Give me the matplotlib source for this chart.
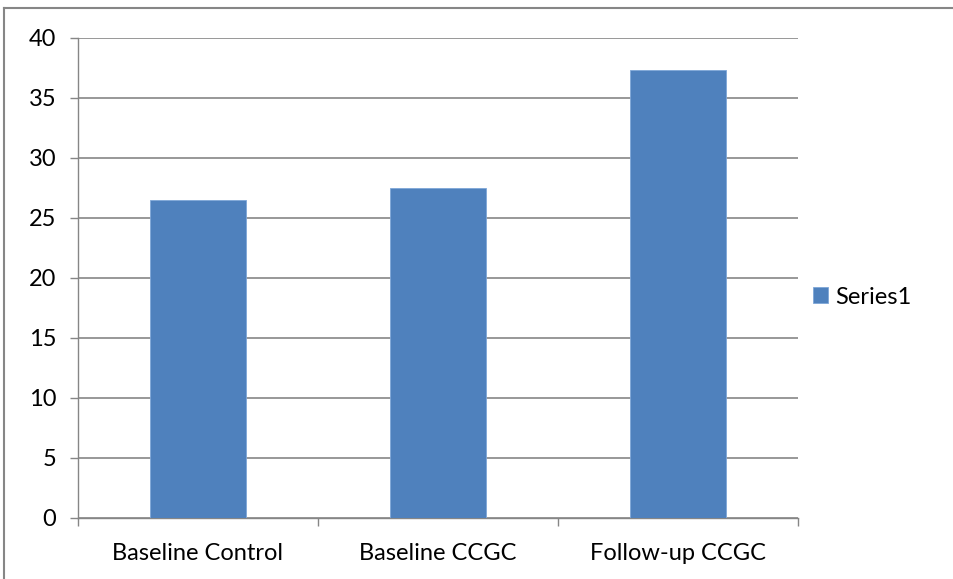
import matplotlib.pyplot as plt
from matplotlib.lines import Line2D

plt.rcParams["font.family"] = ["Lato", "DejaVu Sans"]

categories = ["Baseline Control", "Baseline CCGC", "Follow-up CCGC"]
values = [26.5, 27.5, 37.3]
series_name = "Series1"
yticks = [0, 5, 10, 15, 20, 25, 30, 35, 40]

W, H = 954, 579
fig = plt.figure(figsize=(W / 100, H / 100), dpi=100)
# plot area in pixels: x 78..798, y 38..518
ax = fig.add_axes([78 / W, 1 - 518 / H, 720 / W, 480 / H])

grid_c = "#868686"
x = range(len(categories))
ax.bar(x, values, width=0.4, color="#4F81BD", edgecolor="#7EA6D8",
       linewidth=0.6, label=series_name, zorder=3)

ax.set_xlim(-0.5, len(categories) - 0.5)
ax.set_ylim(0, 40)
ax.set_yticks(yticks)
ax.yaxis.grid(True, color=grid_c, linewidth=1.2, zorder=0)

# category ticks between categories
ax.set_xticks([i - 0.5 for i in range(len(categories) + 1)])
ax.set_xticklabels([])
ax.set_xticks(list(x), minor=True)
ax.set_xticklabels(categories, minor=True, fontsize=17)
ax.tick_params(axis="x", which="minor", length=0, pad=18)
ax.tick_params(axis="x", which="major", length=5.5, color=grid_c, width=1)
ax.tick_params(axis="y", length=5.5, color=grid_c, width=1, labelsize=17, pad=10)

for s in ["top", "right"]:
    ax.spines[s].set_visible(False)
for s in ["left", "bottom"]:
    ax.spines[s].set_color(grid_c)
    ax.spines[s].set_linewidth(1)

ax.legend(loc="center left", bbox_to_anchor=(813 / W, 1 - 297 / H),
          bbox_transform=fig.transFigure,
          frameon=False, fontsize=17, handlelength=0.65, handleheight=0.65,
          handletextpad=0.3, borderaxespad=0, borderpad=0)

# outer chart border (top and left only visible)
fig.lines.append(Line2D([4 / W, 1], [1 - 8 / H, 1 - 8 / H], transform=fig.transFigure,
                        color=grid_c, linewidth=1.5))
fig.lines.append(Line2D([4 / W, 4 / W], [0, 1 - 8 / H], transform=fig.transFigure,
                        color=grid_c, linewidth=1.5))

fig.savefig("out.png", dpi=100)
